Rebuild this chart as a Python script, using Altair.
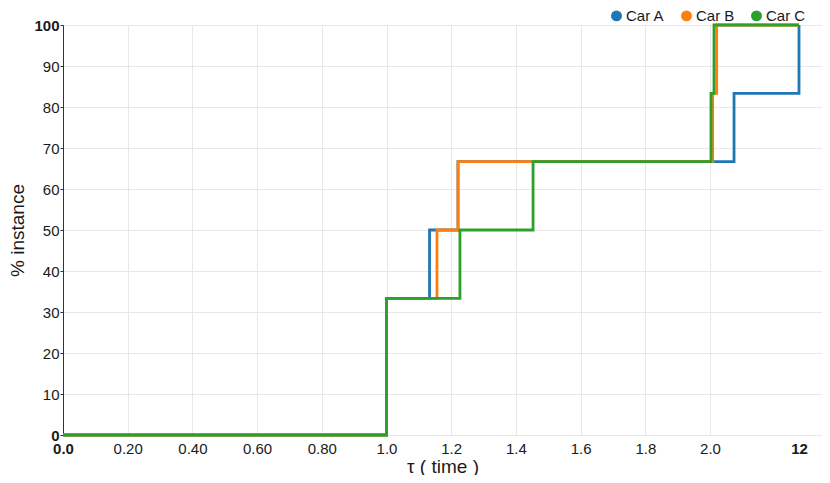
import altair as alt
import pandas as pd

# step data (tau values, % instance)
car_a_x = [0.0, 1.0, 1.133, 1.221, 4.7, 12.0]
car_a_y = [0.0, 33.33, 50.0, 66.67, 83.33, 100.0]
car_b_x = [0.0, 1.0, 1.156, 1.221, 2.30, 2.75, 12.0]
car_b_y = [0.0, 33.33, 50.0, 66.67, 83.33, 100.0, 100.0]
car_c_x = [0.0, 1.0, 1.227, 1.453, 2.11, 2.45, 12.0]
car_c_y = [0.0, 33.33, 50.0, 66.67, 83.33, 100.0, 100.0]

series = ["Car A", "Car B", "Car C"]
colors = ["#1f77b4", "#ff7f0e", "#2ca02c"]
x_ticks = [0.0, 0.2, 0.4, 0.6, 0.8, 1.0, 1.2, 1.4, 1.6, 1.8, 2.0, 12.0]
y_ticks = [0, 10, 20, 30, 40, 50, 60, 70, 80, 90, 100]

rows = []
for name, xs, ys in zip(series, [car_a_x, car_b_x, car_c_x], [car_a_y, car_b_y, car_c_y]):
    for i, (x, y) in enumerate(zip(xs, ys)):
        rows.append({"car": name, "tau": x, "pct": y, "order": i})
df = pd.DataFrame(rows)

label_expr = ("datum.value == 0 ? '0.0' : (datum.value < 1 ? format(datum.value, '.2f') : "
              "(datum.value <= 2 ? format(datum.value, '.1f') : format(datum.value, 'd')))")

chart = alt.Chart(df).mark_line(interpolate="step-after", strokeWidth=2.8).encode(
    x=alt.X("tau:Q",
            scale=alt.Scale(domain=[0, 2, 12, 15], range=[0, 647, 736, 759], nice=False, zero=False),
            axis=alt.Axis(values=x_ticks, labelExpr=label_expr, title="τ ( time )",
                          domain=False, ticks=False, labelPadding=6, labelFlush=False,
                          labelFontSize=15, labelColor="#1a1a1a",
                          labelFontWeight={"condition": {"test": "datum.value == 0 || datum.value == 12", "value": "bold"}, "value": "normal"},
                          gridColor={"condition": {"test": "datum.value == 12", "value": "transparent"}, "value": "#e8e8e8"},
                          titleFontSize=19, titleFontWeight="normal", titleColor="#1a1a1a",
                          titleY=22, titleBaseline="top")),
    y=alt.Y("pct:Q", scale=alt.Scale(domain=[0, 100], nice=False),
            axis=alt.Axis(values=y_ticks, format="d", title="% instance",
                          domain=True, domainColor="#333", ticks=True, tickSize=3, tickColor="#333",
                          labelPadding=1, labelFontSize=15, labelColor="#1a1a1a", labelFlush=False,
                          labelFontWeight={"condition": {"test": "datum.value == 0 || datum.value == 100", "value": "bold"}, "value": "normal"},
                          gridColor="#e8e8e8",
                          titleFontSize=19, titleFontWeight="normal", titleColor="#1a1a1a",
                          titleX=-55, titleBaseline="top")),
    color=alt.Color("car:N", scale=alt.Scale(domain=series, range=colors),
                    legend=alt.Legend(title=None, orient="none", legendX=546, legendY=-17,
                                      direction="horizontal", symbolType="circle",
                                      symbolSize=30, symbolStrokeWidth=5.5,
                                      labelFontSize=15, labelColor="#1a1a1a", labelOffset=2,
                                      columnPadding=7, padding=0)),
    order="order:Q",
).properties(
    width=759, height=410,
    autosize=alt.AutoSizeParams(type="none"),
    padding={"left": 55, "top": 17, "right": 0, "bottom": 40},
).configure(font="Liberation Sans").configure_view(stroke=None)

chart.save("out.html", embed_options={"renderer": "svg", "actions": False})
